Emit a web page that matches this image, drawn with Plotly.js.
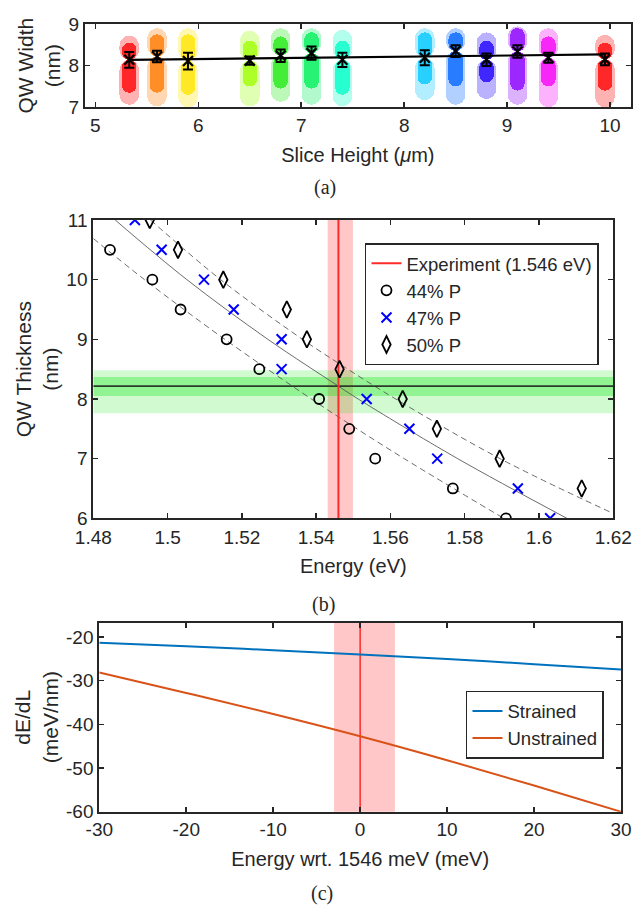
<!DOCTYPE html>
<html>
<head>
<meta charset="utf-8">
<script src="https://cdn.plot.ly/plotly-3.0.1.min.js"></script>
<style>html,body{margin:0;padding:0;background:#fff;}#chart{width:634px;height:908px;}</style>
</head>
<body>
<div id="chart"></div>
<script>
// ---------- Panel (a): QW width vs slice height ----------
const sliceHeight = [5.33, 5.6, 5.9, 6.5, 6.8, 7.1, 7.4, 8.2, 8.5, 8.8, 9.1, 9.4, 9.95];
const meanWidth   = [8.14, 8.22, 8.11, 8.12, 8.24, 8.30, 8.14, 8.19, 8.35, 8.14, 8.34, 8.19, 8.15];
const widthErr    = [0.19, 0.14, 0.20, 0.10, 0.15, 0.16, 0.17, 0.18, 0.14, 0.15, 0.15, 0.12, 0.14];
const cloudLo     = [7.06, 7.02, 7.00, 7.02, 7.13, 7.06, 7.02, 7.17, 7.06, 7.20, 7.06, 7.00, 7.00];
const cloudHi     = [8.72, 8.90, 8.90, 8.84, 8.90, 8.90, 8.86, 8.90, 8.90, 8.80, 8.94, 8.90, 8.74];
const coreLo      = [7.35, 7.35, 7.30, 7.50, 7.45, 7.45, 7.30, 7.55, 7.50, 7.60, 7.40, 7.50, 7.40];
const coreHi      = [8.55, 8.75, 8.75, 8.60, 8.70, 8.80, 8.60, 8.80, 8.80, 8.60, 8.90, 8.70, 8.55];
const sliceRGB    = ['255,0,0','255,122,0','255,230,0','156,255,0','34,235,20','0,240,90','0,255,200',
                     '0,200,255','0,100,255','30,0,255','140,0,255','245,0,245','255,0,0'];
const fitHeight   = [5.33, 9.95];
const fitWidth    = [8.14, 8.27];
const xTicksA = [5, 6, 7, 8, 9, 10];
const yTicksA = [7, 8, 9];

// ---------- Panel (b): QW thickness vs energy ----------
const e44 = [1.4845, 1.4959, 1.5035, 1.5159, 1.5247, 1.5408, 1.5489, 1.5559, 1.5768, 1.5911];
const l44 = [10.5, 10, 9.5, 9, 8.5, 8, 7.5, 7, 6.5, 6];
const e47 = [1.4912, 1.4984, 1.5098, 1.5178, 1.5307, 1.5307, 1.5536, 1.5651, 1.5726, 1.5943, 1.6030];
const l47 = [11, 10.5, 10, 9.5, 9, 8.5, 8, 7.5, 7, 6.5, 6];
const e50 = [1.4952, 1.5028, 1.5150, 1.5321, 1.5375, 1.5463, 1.5633, 1.5725, 1.5894, 1.6115];
const l50 = [11, 10.5, 10, 9.5, 9, 8.5, 8, 7.5, 7, 6.5];
const fitMidE  = [1.4859, 1.5052, 1.5270, 1.5460, 1.5513, 1.5781, 1.6075];
const fitMidL  = [11, 10, 9, 8.215, 8, 7, 6];
const fitLowE  = [1.4800, 1.4938, 1.5154, 1.5387, 1.5460, 1.5637, 1.5905];
const fitLowL  = [10.69, 10, 9, 8, 7.7, 7, 6];
const fitHighE = [1.4954, 1.5143, 1.5363, 1.5460, 1.5614, 1.5895, 1.6200];
const fitHighL = [11, 10, 9, 8.6, 8, 7, 6.08];
const expEnergy = 1.546;
const expBand   = [1.5431, 1.5499];
const widthMean = 8.215;
const widthBandInner = [8.05, 8.37];
const widthBandOuter = [7.76, 8.48];
const xRangeB = [1.48, 1.62];
const yRangeB = [6, 11];
const xTicksB = [1.48, 1.5, 1.52, 1.54, 1.56, 1.58, 1.6, 1.62];
const xTickTextB = ['1.48', '1.5', '1.52', '1.54', '1.56', '1.58', '1.6', '1.62'];
const yTicksB = [6, 7, 8, 9, 10, 11];

// ---------- Panel (c): dE/dL vs energy offset ----------
const energyOffset = [-30, -20, -10, 0, 10, 20, 30];
const strained     = [-21.3, -22.1, -23.0, -24.0, -25.0, -26.2, -27.4];
const unstrained   = [-28.1, -32.8, -37.6, -42.7, -48.2, -54.0, -60.0];
const offsetBand   = [-3, 4];
const offsetExp    = 0;
const yRangeC = [-60, -16.7];
const xTicksC = [-30, -20, -10, 0, 10, 20, 30];
const xTickTextC = ['-30', '-20', '-10', '0', '10', '20', '30'];
const yTicksC = [-60, -50, -40, -30, -20];
const yTickTextC = ['-60', '-50', '-40', '-30', '-20'];

const FONT = 'Liberation Sans, Arial, Helvetica, sans-serif';
const INK = '#262626';

function axisStyle(extra) {
  return Object.assign({
    showgrid: false, zeroline: false, showline: true, mirror: 'ticks',
    linecolor: INK, linewidth: 2, ticks: 'inside', ticklen: 5, tickwidth: 1.5, tickcolor: INK,
    tickfont: {family: FONT, size: 19, color: INK}, fixedrange: true
  }, extra);
}

const traces = [];
function cloudBars(lo, hi, alpha, width) {
  const cols = sliceRGB.map(c => 'rgba(' + c + ',' + alpha + ')');
  traces.push({type: 'bar', x: sliceHeight, base: meanWidth, y: hi.map((v, i) => v - meanWidth[i]),
    width: width, marker: {color: cols, line: {width: 0}, cornerradius: '50%'},
    xaxis: 'x', yaxis: 'y', showlegend: false, hoverinfo: 'skip'});
  traces.push({type: 'bar', x: sliceHeight, base: meanWidth, y: lo.map((v, i) => v - meanWidth[i]),
    width: width, marker: {color: cols, line: {width: 0}, cornerradius: '50%'},
    xaxis: 'x', yaxis: 'y', showlegend: false, hoverinfo: 'skip'});
}
cloudBars(cloudLo, cloudHi, 0.3, 0.19);
cloudBars(coreLo, coreHi, 0.78, 0.14);

traces.push({type: 'scatter', mode: 'lines', x: fitHeight, y: fitWidth, xaxis: 'x', yaxis: 'y',
  line: {color: '#000', width: 2.2}, showlegend: false, hoverinfo: 'skip'});
traces.push({type: 'scatter', mode: 'markers', x: sliceHeight, y: meanWidth, xaxis: 'x', yaxis: 'y',
  marker: {symbol: 'x-thin-open', size: 10, color: '#000', line: {color: '#000', width: 2.2}},
  error_y: {type: 'data', array: widthErr, visible: true, color: '#000', thickness: 2, width: 5},
  showlegend: false, hoverinfo: 'skip'});

const grayLine = {color: '#5a5a5a', width: 0.9};
traces.push({type: 'scatter', mode: 'lines', x: fitLowE, y: fitLowL, xaxis: 'x2', yaxis: 'y2',
  line: Object.assign({dash: '6px,4px', shape: 'spline'}, grayLine), showlegend: false, hoverinfo: 'skip'});
traces.push({type: 'scatter', mode: 'lines', x: fitMidE, y: fitMidL, xaxis: 'x2', yaxis: 'y2',
  line: Object.assign({shape: 'spline'}, grayLine), showlegend: false, hoverinfo: 'skip'});
traces.push({type: 'scatter', mode: 'lines', x: fitHighE, y: fitHighL, xaxis: 'x2', yaxis: 'y2',
  line: Object.assign({dash: '6px,4px', shape: 'spline'}, grayLine), showlegend: false, hoverinfo: 'skip'});
traces.push({type: 'scatter', mode: 'lines', x: xRangeB, y: [widthMean, widthMean], xaxis: 'x2', yaxis: 'y2',
  line: {color: '#2b3a2b', width: 1.6}, showlegend: false, hoverinfo: 'skip'});
traces.push({type: 'scatter', mode: 'lines', x: [expEnergy, expEnergy], y: yRangeB, xaxis: 'x2', yaxis: 'y2',
  name: 'Experiment (1.546 eV)', line: {color: '#ff2a2a', width: 2}, legend: 'legend'});
traces.push({type: 'scatter', mode: 'markers', x: e44, y: l44, xaxis: 'x2', yaxis: 'y2', name: '44% P',
  marker: {symbol: 'circle-open', size: 10, color: '#000', line: {color: '#000', width: 1.8}}, legend: 'legend'});
traces.push({type: 'scatter', mode: 'markers', x: e47, y: l47, xaxis: 'x2', yaxis: 'y2', name: '47% P',
  marker: {symbol: 'x-thin-open', size: 10, color: '#0000ff', line: {color: '#0000ff', width: 2}}, legend: 'legend'});
traces.push({type: 'scatter', mode: 'markers', x: e50, y: l50, xaxis: 'x2', yaxis: 'y2', name: '50% P',
  marker: {symbol: 'diamond-tall-open', size: 12, color: '#000', line: {color: '#000', width: 1.8}}, legend: 'legend'});

traces.push({type: 'scatter', mode: 'lines', x: [offsetExp, offsetExp], y: yRangeC, xaxis: 'x3', yaxis: 'y3',
  line: {color: '#ff2a2a', width: 1.5}, showlegend: false, hoverinfo: 'skip'});
traces.push({type: 'scatter', mode: 'lines', x: energyOffset, y: strained, xaxis: 'x3', yaxis: 'y3',
  name: 'Strained', line: {color: '#0072BD', width: 2, shape: 'spline'}, legend: 'legend2'});
traces.push({type: 'scatter', mode: 'lines', x: energyOffset, y: unstrained, xaxis: 'x3', yaxis: 'y3',
  name: 'Unstrained', line: {color: '#D95319', width: 2, shape: 'spline'}, legend: 'legend2'});

const xTitleFont = {family: FONT, size: 20, color: INK};
const yTitleFont = {family: FONT, size: 21, color: INK};
const serif = {family: 'Liberation Serif, DejaVu Serif, serif', size: 20, color: INK};
const layout = {
  width: 634, height: 908, margin: {l: 0, r: 0, t: 0, b: 0},
  paper_bgcolor: '#fff', plot_bgcolor: '#fff',
  font: {family: FONT, size: 19, color: INK},
  barmode: 'overlay', bargap: 0,
  xaxis: axisStyle({domain: [0.13407, 0.99479], anchor: 'y', range: [4.9, 10.2], tickvals: xTicksA,
    title: {text: 'Slice Height (<i>μ</i>m)', font: xTitleFont, standoff: 13}}),
  yaxis: axisStyle({domain: [0.88183, 0.97357], anchor: 'x', range: [7, 9], tickvals: yTicksA,
    title: {text: 'QW Width<br>(nm)', font: yTitleFont, standoff: 2}}),
  xaxis2: axisStyle({domain: [0.14716, 0.96735], anchor: 'y2', range: xRangeB, tickvals: xTicksB, ticktext: xTickTextB,
    ticklabelstandoff: 1, title: {text: 'Energy (eV)', font: xTitleFont, standoff: 12}}),
  yaxis2: axisStyle({domain: [0.42919, 0.75771], anchor: 'x2', range: yRangeB, tickvals: yTicksB,
    title: {text: 'QW Thickness<br>(nm)', font: yTitleFont, standoff: 2}}),
  xaxis3: axisStyle({domain: [0.15662, 0.97950], anchor: 'y3', range: [-30, 30], tickvals: xTicksC, ticktext: xTickTextC,
    title: {text: 'Energy wrt. 1546 meV (meV)', font: xTitleFont, standoff: 13}}),
  yaxis3: axisStyle({domain: [0.10606, 0.31421], anchor: 'x3', range: yRangeC, tickvals: yTicksC, ticktext: yTickTextC,
    title: {text: 'dE/dL<br>(meV/nm)', font: yTitleFont, standoff: 2}}),
  legend: {x: 0.5757, y: 0.73205, xanchor: 'left', yanchor: 'top', bgcolor: '#fff', bordercolor: INK, borderwidth: 1.5,
    font: {family: FONT, size: 18.5, color: INK}, tracegroupgap: 0},
  legend2: {x: 0.735, y: 0.239, xanchor: 'left', yanchor: 'top', bgcolor: '#fff', bordercolor: INK, borderwidth: 1.5,
    font: {family: FONT, size: 18.5, color: INK}, tracegroupgap: 0},
  shapes: [
    {type: 'rect', xref: 'x2', yref: 'y2', x0: xRangeB[0], x1: xRangeB[1], y0: widthBandOuter[0], y1: widthBandOuter[1],
      fillcolor: 'rgba(0,230,0,0.18)', line: {width: 0}, layer: 'below'},
    {type: 'rect', xref: 'x2', yref: 'y2', x0: xRangeB[0], x1: xRangeB[1], y0: widthBandInner[0], y1: widthBandInner[1],
      fillcolor: 'rgba(0,230,0,0.3)', line: {width: 0}, layer: 'below'},
    {type: 'rect', xref: 'x2', yref: 'y2 domain', x0: expBand[0], x1: expBand[1], y0: 0, y1: 1,
      fillcolor: 'rgba(255,0,0,0.22)', line: {width: 0}, layer: 'below'},
    {type: 'rect', xref: 'x3', yref: 'y3 domain', x0: offsetBand[0], x1: offsetBand[1], y0: 0, y1: 1,
      fillcolor: 'rgba(255,0,0,0.22)', line: {width: 0}, layer: 'below'}
  ],
  annotations: [
    {text: '(a)', xref: 'paper', yref: 'paper', x: 0.5126, y: 0.794, showarrow: false, xanchor: 'center', yanchor: 'middle', font: serif},
    {text: '(b)', xref: 'paper', yref: 'paper', x: 0.5095, y: 0.3348, showarrow: false, xanchor: 'center', yanchor: 'middle', font: serif},
    {text: '(c)', xref: 'paper', yref: 'paper', x: 0.5079, y: 0.0165, showarrow: false, xanchor: 'center', yanchor: 'middle', font: serif}
  ]
};

Plotly.newPlot('chart', traces, layout, {staticPlot: true, displayModeBar: false});
</script>
</body>
</html>
